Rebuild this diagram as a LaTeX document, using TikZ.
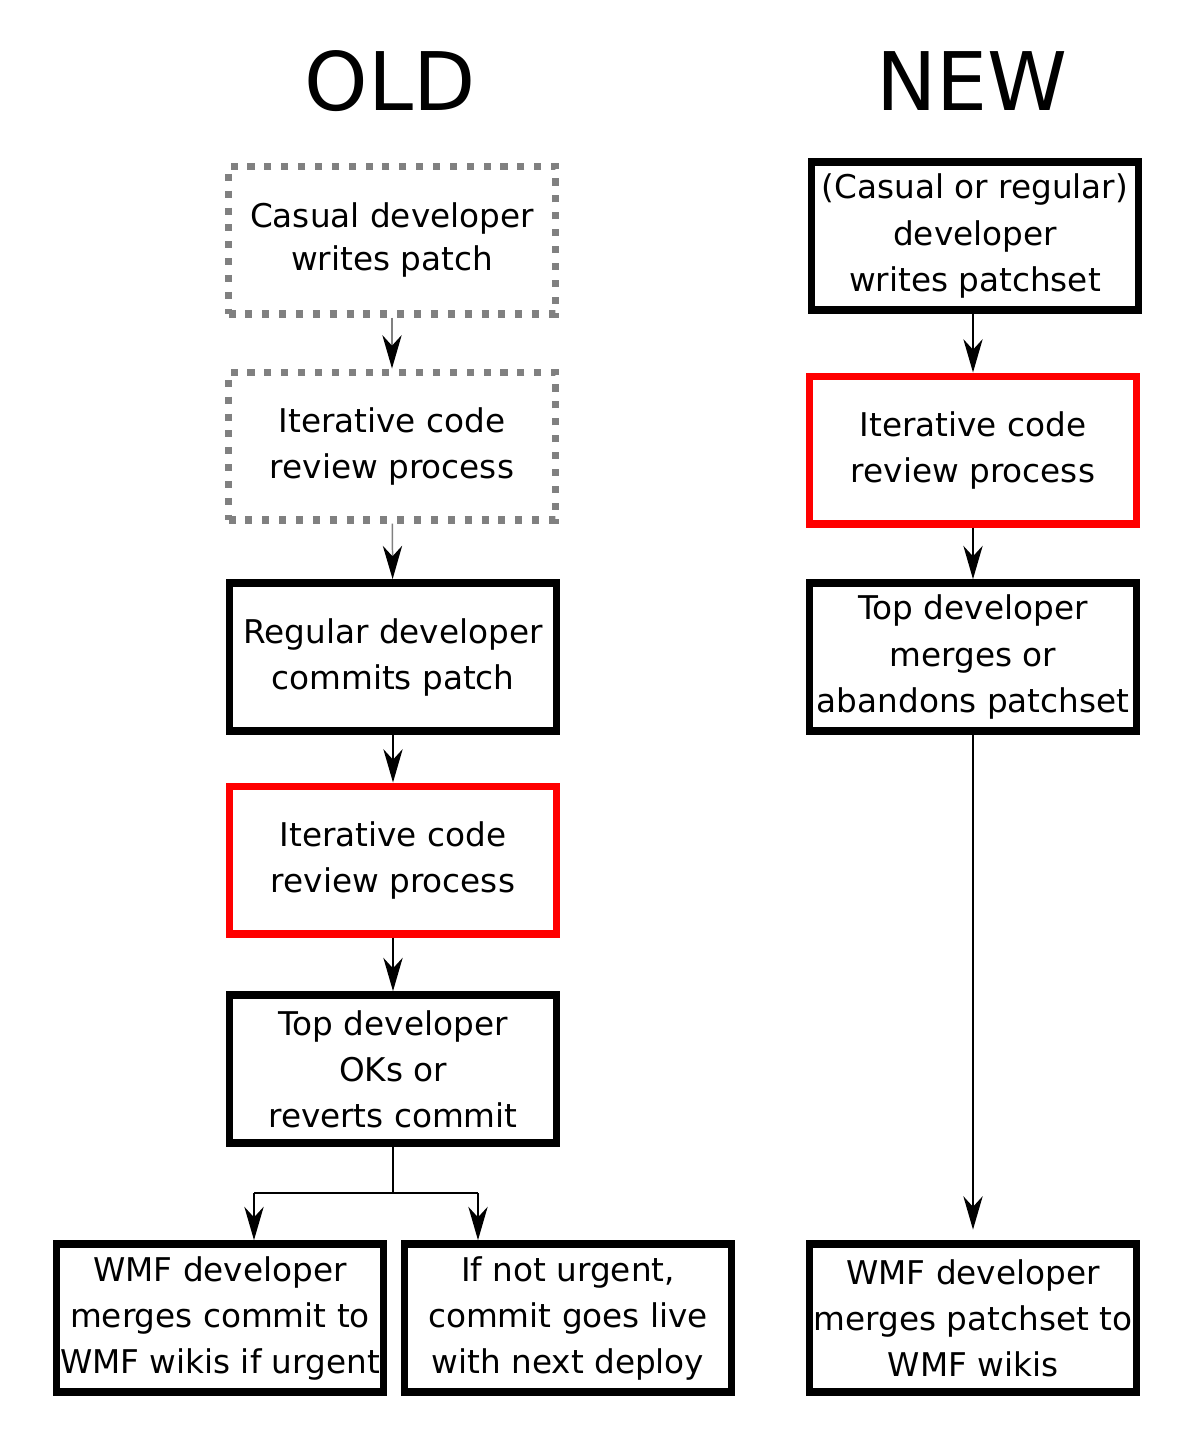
\documentclass[tikz,border=0pt]{standalone}
\usepackage{fontspec}
\setmainfont{DejaVu Sans}
\usetikzlibrary{positioning,calc,arrows.meta}

\begin{document}
\begin{tikzpicture}[x=0.02cm,y=-0.02cm,
		box/.style={draw=black, line width=4.4pt, align=center, inner sep=0pt, minimum width=6.54cm, minimum height=2.96cm, font=\fontsize{18.6}{26.2}\selectfont},
		review/.style={box, draw=red, line width=4pt},
		oldbox/.style={box, draw=gray, line width=4pt, dash pattern=on 4pt off 5.6pt},
		flow/.style={line width=0.85pt, -{Stealth[length=19pt, width=11pt, inset=6pt, black]}},
		title/.style={font=\fontsize{46}{50}\selectfont}]
		\useasboundingbox (0,0) rectangle (1200,1434);
		% column titles
		\node[title, anchor=base] (old) at (390,110) {OLD};
		\node[title, anchor=base] (new) at (972,110) {NEW};
		% old workflow
		\node[oldbox, font=\fontsize{18.6}{24.5}\selectfont] (casual) at (392,240) {Casual developer\\writes patch};
		\node[oldbox] (oldreview) at (392,446) {Iterative code\\review process};
		\node[box] (regular) at (393,657) {Regular developer\\commits patch};
		\node[review] (postreview) at (393,860) {Iterative code\\review process};
		\node[box] (topold) at (393,1069) {Top developer\\OKs or\\reverts commit};
		\node[box] (urgent) at (220,1318) {WMF developer\\merges commit to\\WMF wikis if urgent};
		\node[box] (deploy) at (568,1318) {If not urgent,\\commit goes live\\with next deploy};
		\coordinate (forkL) at (254,1193);
		\coordinate (forkR) at (478,1193);
		\draw[flow, gray] (casual) -- (oldreview);
		\draw[flow, gray] (oldreview) -- (regular);
		\draw[flow] (regular) -- (postreview);
		\draw[flow] (postreview) -- (topold);
		\draw[line width=0.85pt] (topold.south) -- (topold.south |- forkL) -- (forkL);
		\draw[line width=0.85pt] (topold.south |- forkR) -- (forkR);
		\draw[flow] (forkL) -- (forkL |- urgent.north);
		\draw[flow] (forkR) -- (forkR |- deploy.north);
		% new workflow
		\node[box] (anydev) at (975,236) {(Casual or regular)\\developer\\writes patchset};
		\node[review] (newreview) at (973,450) {Iterative code\\review process};
		\node[box] (topnew) at (973,657) {Top developer\\merges or\\abandons patchset};
		\node[box] (merge) at (973,1318) {WMF developer\\merges patchset to\\WMF wikis};
		\draw[flow] (anydev.south -| newreview.north) -- (newreview);
		\draw[flow] (newreview) -- (topnew);
		\draw[flow, shorten >=6pt] (topnew) -- (merge);
\end{tikzpicture}
\end{document}
